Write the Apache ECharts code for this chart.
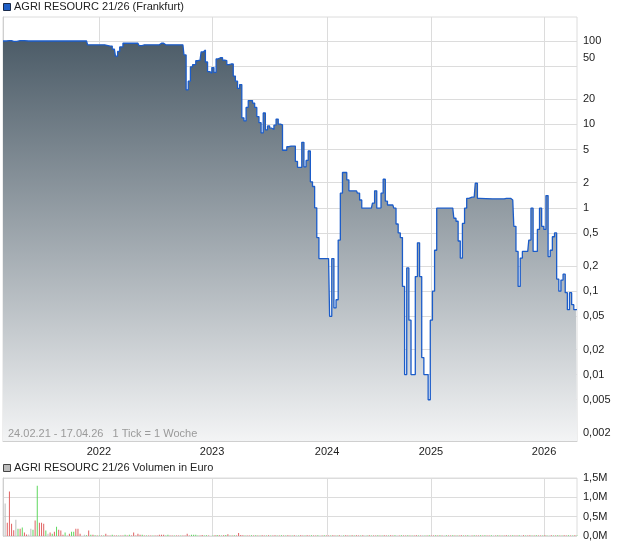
<!DOCTYPE html>
<html><head><meta charset="utf-8">
<script src="https://cdn.jsdelivr.net/npm/echarts@6/dist/echarts.min.js"></script>
<style>html,body{margin:0;padding:0;background:#fff}#c{width:620px;height:546px}</style>
</head><body><div id="c"></div>
<script>
// ---- DATA ----
const seriesName = 'AGRI RESOURC 21/26 (Frankfurt)';
const volumeName = 'AGRI RESOURC 21/26 Volumen in Euro';
const rangeText = '24.02.21 - 17.04.26   1 Tick = 1 Woche';
const weekCount = 268; // weekly ticks 24.02.21 .. 17.04.26
const yearTicks = [44.8, 97.6, 151.3, 199.8, 252.6];
const yearLabels = ['2022', '2023', '2024', '2025', '2026'];
const priceTicks = [0.002, 0.005, 0.01, 0.02, 0.05, 0.1, 0.2, 0.5, 1, 2, 5, 10, 20, 50, 100];
const priceTickLabels = ['0,002', '0,005', '0,01', '0,02', '0,05', '0,1', '0,2', '0,5', '1', '2', '5', '10', '20', '50', '100'];
const volTicks = [0, 500000, 1000000, 1500000];
const volTickLabels = ['0,0M', '0,5M', '1,0M', '1,5M'];

// price per week (week index, price in %)
const priceWeeks = [0,3,5,8,12,20,30,39,40,45,50,52,53,54,55,57,63,64,66,73,74,76,84,85,86,87,88,89,91,92,93,94,95,96,97,98,99,100,
  101,102,103,104,105,106,107,108,109,110,111,112,113,114,115,116,117,118,119,120,121,122,123,124,125,126,127,128,129,130,
  131,132,133,134,135,136,137,138,139,140,141,142,143,144,145,146,147,148,152,153,154,155,156,157,158,159,160,161,162,165,166,167,168,172,
  173,174,175,176,177,178,179,180,182,183,184,185,186,187,188,189,190,191,192,193,194,195,196,197,198,199,200,201,202,203,210,
  211,212,213,214,215,216,217,218,220,221,222,223,234,235,237,238,239,240,241,242,243,245,246,247,248,249,250,
  251,252,253,254,255,256,257,258,259,260,261,262,263,264,265,266,267,268];
const prices = [100,101,99,101,100,100,100,100,90,90,87,80,66,75,85,94,94,88,90,90,94,90,90,68,26,33,49,52,58,59,74,78,56,43,41,48,42,61,
  63,63,59,58,52,53,53,38,33,27,30,12,11,16,19.3,19.3,18,16,12.4,10.5,7.9,13.7,8.6,9.6,9.0,8.7,9.8,11.6,10.1,9.9,
  4.9,4.9,5.4,5.5,5.5,5.5,3.6,3.06,3.06,6.1,3.1,3.7,4.8,2.05,1.8,1.0,0.44,0.246,0.246,0.05,0.246,0.063,0.079,0.41,1.5,2.65,2.65,2.16,1.6,1.6,1.5,1.24,0.99,0.99,
  1.14,1.6,0.99,1.0,1.5,2.2,1.2,1.08,1.08,0.99,0.64,0.5,0.44,0.114,0.01,0.19,0.045,0.01,0.01,0.15,0.38,0.15,0.016,0.01,0.01,0.005,0.045,0.1,0.31,0.99,0.99,
  0.75,0.69,0.40,0.25,0.65,0.99,1.3,1.34,1.34,1.97,1.3,1.28,1.28,1.3,1.3,1.24,0.6,0.3,0.114,0.25,0.3,0.3,0.41,0.99,0.3,0.3,0.55,
  0.99,0.6,0.55,1.4,0.26,0.31,0.45,0.5,0.14,0.1,0.136,0.16,0.096,0.06,0.096,0.069,0.06,0.06];

// weekly volume in thousand EUR, weeks 0..268 ; direction: 1 up (green), -1 down (red), 0 unchanged (grey)
const volumeK = [
  0,840,340,1150,320,150,420,190,190,220,90,40,40,190,160,400,1300,340,340,320,
  140,60,90,60,110,240,160,140,30,90,20,60,110,110,190,190,60,0,30,20,
  140,30,30,20,15,10,10,10,60,15,10,30,15,10,10,15,10,30,15,30,
  10,90,15,60,30,30,10,10,15,10,10,10,15,30,30,30,15,30,10,10,
  15,10,10,10,10,15,60,15,30,30,30,15,10,25,10,20,10,0,15,20,
  25,20,15,20,25,45,15,10,20,15,80,25,20,15,10,15,20,15,20,10,
  15,20,10,15,20,15,10,20,15,10,20,15,15,20,10,15,20,15,10,20,
  15,10,20,15,20,10,15,20,10,15,20,15,10,15,20,10,15,20,15,10,
  20,15,10,20,15,20,10,15,20,15,10,20,15,10,15,20,10,15,20,15,
  10,20,15,20,10,15,20,15,10,20,15,10,15,20,10,15,20,15,10,20,
  15,10,20,15,20,10,15,20,15,10,20,15,10,15,20,10,15,20,15,10,
  20,15,10,20,15,20,10,15,20,15,10,20,15,10,15,20,10,15,20,15,
  10,20,15,20,10,15,20,15,10,20,15,10,15,20,10,15,20,15,10,20,
  15,10,20,15,20,10,15,20,15
];
const volumeDir = [
  0,0,-1,-1,-1,-1,0,1,-1,1,-1,-1,0,0,1,-1,1,-1,-1,-1,
  1,0,-1,1,-1,1,-1,-1,-1,1,0,-1,1,1,-1,-1,-1,0,0,1,
  -1,1,-1,1,-1,1,-1,1,-1,-1,-1,1,-1,-1,1,-1,-1,1,-1,1,
  -1,-1,-1,-1,-1,1,-1,1,-1,-1,1,-1,-1,-1,-1,-1,1,1,-1,-1,
  1,-1,-1,1,-1,-1,-1,-1,1,1,1,1,-1,-1,1,1,-1,0,1,-1,
  1,-1,1,-1,1,-1,1,-1,1,-1,-1,-1,-1,1,-1,-1,1,-1,1,-1,
  1,-1,-1,1,-1,1,-1,-1,1,-1,1,-1,1,-1,-1,1,-1,0,1,-1,
  -1,1,-1,-1,1,-1,-1,1,0,-1,1,-1,-1,1,-1,-1,1,-1,0,1,
  -1,-1,1,-1,1,-1,-1,1,-1,0,1,-1,1,-1,-1,1,-1,1,-1,-1,
  1,-1,-1,1,0,-1,1,-1,-1,1,-1,1,-1,-1,1,-1,0,1,-1,1,
  -1,-1,1,-1,1,-1,0,1,-1,-1,1,-1,1,-1,-1,1,-1,1,0,-1,
  1,-1,-1,1,-1,1,-1,-1,1,0,-1,1,-1,1,-1,-1,1,-1,1,-1,
  -1,1,0,-1,1,-1,-1,1,-1,1,-1,-1,1,-1,1,0,-1,1,-1,1,
  -1,1,-1,-1,1,-1,1,-1,1
];

// ---- CHART ----
const chart = echarts.init(document.getElementById('c'), null, {renderer: 'canvas'});
const priceData = priceWeeks.map((w, i) => [w, prices[i]]);
const volData = volumeK.map((v, i) => [i, v * 1000]);
const dirColor = {'1': '#5fd85f', '-1': '#e06262', '0': '#bdbdbd'};

function priceLabel(v) {
  let best = 0, d = Infinity;
  priceTicks.forEach((t, i) => { const dd = Math.abs(Math.log10(t) - Math.log10(v)); if (dd < d) { d = dd; best = i; } });
  const s = priceTickLabels[best];
  return s === '50' ? '{up|' + s + '}' : s;
}
function yearLabel(v) {
  let best = 0, d = Infinity;
  yearTicks.forEach((t, i) => { const dd = Math.abs(t - v); if (dd < d) { d = dd; best = i; } });
  return yearLabels[best];
}
function volLabel(v) {
  let best = 0, d = Infinity;
  volTicks.forEach((t, i) => { const dd = Math.abs(t - v); if (dd < d) { d = dd; best = i; } });
  return volTickLabels[best];
}

const gridColor = '#dcdcdc';
chart.setOption({
  animation: false,
  backgroundColor: '#fff',
  textStyle: {fontFamily: 'Liberation Sans, Arial, sans-serif'},
  grid: [
    {left: 3, right: 43, top: 17, bottom: 105, show: true, borderColor: gridColor, borderWidth: 1},
    {left: 3, right: 43, top: 478, height: 58, show: true, borderColor: gridColor, borderWidth: 1}
  ],
  xAxis: [
    {type: 'value', gridIndex: 0, min: 0, max: weekCount,
     axisLine: {show: true, lineStyle: {color: '#cfcfcf'}}, axisTick: {show: false, customValues: yearTicks},
     axisLabel: {customValues: yearTicks, formatter: yearLabel, color: '#222', fontSize: 11, margin: 5},
     splitLine: {show: true, lineStyle: {color: gridColor, width: 1}}},
    {type: 'value', gridIndex: 1, min: 0, max: weekCount,
     axisLine: {show: false}, axisTick: {show: false, customValues: yearTicks},
     axisLabel: {show: false, customValues: yearTicks},
     splitLine: {show: true, lineStyle: {color: gridColor, width: 1}}}
  ],
  yAxis: [
    {type: 'log', gridIndex: 0, position: 'right', min: 0.0016, max: 194, logBase: 10,
     axisLine: {show: true, lineStyle: {color: '#cfcfcf'}}, axisTick: {show: false, customValues: priceTicks},
     axisLabel: {customValues: priceTicks, formatter: priceLabel, color: '#222', fontSize: 11, margin: 6,
                 rich: {up: {fontSize: 11, color: '#222', padding: [0, 0, 16, 0]}}},
     splitLine: {show: true, lineStyle: {color: gridColor, width: 1}}},
    {type: 'value', gridIndex: 1, position: 'right', min: 0, max: 1500000, interval: 500000,
     axisLine: {show: true, lineStyle: {color: '#cfcfcf'}}, axisTick: {show: false},
     axisLabel: {formatter: volLabel, color: '#222', fontSize: 11, margin: 6},
     splitLine: {show: true, lineStyle: {color: gridColor, width: 1}}}
  ],
  series: [
    {name: seriesName, type: 'line', xAxisIndex: 0, yAxisIndex: 0, data: priceData, step: 'middle',
     symbol: 'none', lineStyle: {color: '#1b5cc9', width: 1.3},
     areaStyle: {origin: 'start', opacity: 1, color: new echarts.graphic.LinearGradient(0, 35, 0, 441, [
       {offset: 0, color: '#4a5a66'}, {offset: 1, color: '#f3f4f5'}], true)}},
    {name: volumeName, type: 'bar', xAxisIndex: 1, yAxisIndex: 1, data: volData, barWidth: 1,
     itemStyle: {color: p => dirColor[String(volumeDir[p.dataIndex])]}}
  ],
  graphic: [
    {type: 'rect', z: 100, left: 3, top: 3, shape: {width: 7, height: 7}, style: {fill: '#1f5fc6', stroke: '#1a2a4a', lineWidth: 1}},
    {type: 'text', z: 100, left: 14, top: 1, style: {text: seriesName, fill: '#222', font: '11px "Liberation Sans", Arial, sans-serif'}},
    {type: 'rect', z: 100, left: 3, top: 464, shape: {width: 7, height: 7}, style: {fill: '#bdbdbd', stroke: '#444', lineWidth: 1}},
    {type: 'text', z: 100, left: 14, top: 462, style: {text: volumeName, fill: '#222', font: '11px "Liberation Sans", Arial, sans-serif'}},
    {type: 'text', z: 100, left: 8, top: 428, style: {text: rangeText, fill: '#9a9a9a', font: '11px "Liberation Sans", Arial, sans-serif'}}
  ]
});
</script></body></html>
